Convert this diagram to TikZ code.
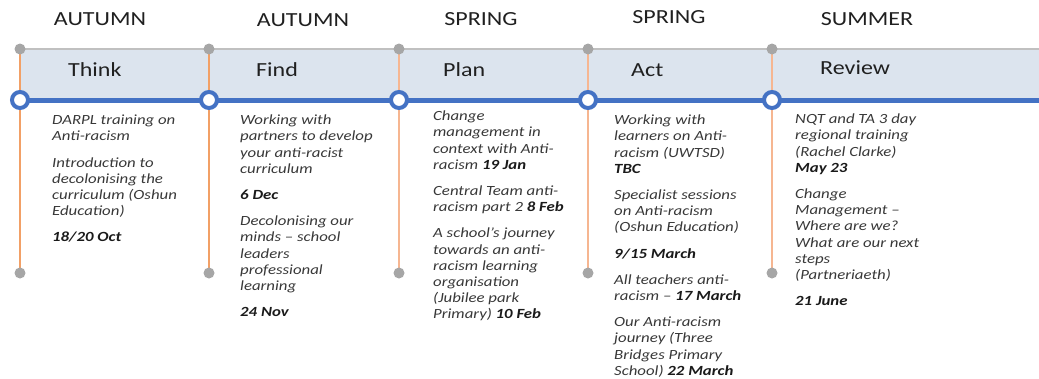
\documentclass[tikz,border=0pt]{standalone}
\usepackage{fontspec}
\setmainfont{Carlito}[FakeStretch=1.2]
\definecolor{bandfill}{HTML}{DCE4EE}
\definecolor{graylinec}{HTML}{C0C0C0}
\definecolor{graydotc}{HTML}{A6A6A6}
\definecolor{bluec}{HTML}{4472C4}
\definecolor{orangeA}{HTML}{F2A066}
\definecolor{orangeB}{HTML}{F6B691}
\definecolor{headc}{HTML}{202020}
\definecolor{bodyc}{HTML}{383838}
\definecolor{datec}{HTML}{1A1A1A}
\pgfdeclarelayer{bg}
\pgfsetlayers{bg,main}
\newcommand{\dt}[1]{{\bfseries\color{datec}#1}}
\newcommand{\pg}{\\[10pt]}
\begin{document}
\begin{tikzpicture}[x=1pt,y=-1pt,
  graydot/.style={circle,fill=graydotc,draw=none,minimum size=11pt,inner sep=0pt},
  ring/.style={circle,fill=white,draw=bluec,line width=4pt,minimum size=16pt,inner sep=0pt},
  grayline/.style={draw=graylinec,line width=2.5pt},
  blueline/.style={draw=bluec,line width=5pt},
  vlineA/.style={draw=orangeA,line width=2.7pt},
  vlineB/.style={draw=orangeB,line width=2.7pt},
  season/.style={font=\fontsize{20}{24}\selectfont,text=headc,inner sep=0pt},
  phase/.style={font=\fontsize{20}{24}\selectfont,text=headc,inner sep=0pt,anchor=west},
  body/.style={font=\fontsize{14}{16.2}\selectfont\itshape,text=bodyc,inner sep=0pt,anchor=north west,align=left}
]
\useasboundingbox (0,0) rectangle (1039,378);
% nodes
\foreach \i/\x in {1/20,2/209,3/399,4/588,5/772} {
  \node[graydot] (t\i) at (\x,49) {};
  \node[graydot] (b\i) at (\x,273) {};
  \node[ring] (c\i) at (\x,100) {};
}
\coordinate (tend) at (1039,49);
\coordinate (bend) at (1039,100);
\coordinate (bandend) at (1039,98);
\begin{pgfonlayer}{bg}
  \fill[bandfill] (t1.center) rectangle (bandend);
  \draw[grayline] (t1.center) -- (tend);
  \draw[vlineA] (t1.center) -- (b1.center);
  \draw[vlineA] (t2.center) -- (b2.center);
  \draw[vlineB] (t3.center) -- (b3.center);
  \draw[vlineB] (t4.center) -- (b4.center);
  \draw[vlineB] (t5.center) -- (b5.center);
  \draw[blueline] (c1.center) -- (bend);
\end{pgfonlayer}
% season labels
\node[season] (s1) at (100,19) {AUTUMN};
\node[season] (s2) at (303,20) {AUTUMN};
\node[season] (s3) at (481,19) {SPRING};
\node[season] (s4) at (669,17) {SPRING};
\node[season] (s5) at (867,19) {SUMMER};
% phase labels
\node[phase] (p1) at (68,70) {Think};
\node[phase] (p2) at (256,70) {Find};
\node[phase] (p3) at (443,70) {Plan};
\node[phase] (p4) at (631,70) {Act};
\node[phase] (p5) at (820,68) {Review};
% body texts
\node[body] (x1) at (52,113.5) {\rule{0pt}{11pt}DARPL training on\\Anti-racism\pg
Introduction to\\decolonising the\\curriculum (Oshun\\Education)\pg
\dt{18/20 Oct}};
\node[body] (x2) at (240,113.5) {\rule{0pt}{11pt}Working with\\partners to develop\\your anti-racist\\curriculum\pg
\dt{6 Dec}\pg
Decolonising our\\minds – school\\leaders\\professional\\learning\pg
\dt{24 Nov}};
\node[body] (x3) at (433,109.5) {\rule{0pt}{11pt}Change\\management in\\context with Anti-\\racism \dt{19 Jan}\pg
Central Team anti-\\racism part 2 \dt{8 Feb}\pg
A school’s journey\\towards an anti-\\racism learning\\organisation\\(Jubilee park\\Primary) \dt{10 Feb}};
\node[body] (x4) at (614,113.5) {\rule{0pt}{11pt}Working with\\learners on Anti-\\racism (UWTSD)\\\dt{TBC}\pg
Specialist sessions\\on Anti-racism\\(Oshun Education)\pg
\dt{9/15 March}\pg
All teachers anti-\\racism – \dt{17 March}\pg
Our Anti-racism\\journey (Three\\Bridges Primary\\School) \dt{22 March}};
\node[body] (x5) at (795,112.5) {\rule{0pt}{11pt}NQT and TA 3 day\\regional training\\(Rachel Clarke)\\\dt{May 23}\pg
Change\\Management –\\Where are we?\\What are our next\\steps\\(Partneriaeth)\pg
\dt{21 June}};
\end{tikzpicture}
\end{document}
